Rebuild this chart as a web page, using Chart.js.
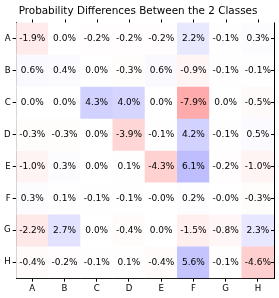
<!DOCTYPE html>
<html>
<head>
<meta charset="utf-8">
<script src="https://cdn.jsdelivr.net/npm/chart.js@4"></script>
<style>
  html, body { margin: 0; padding: 0; background: #fff; }
  #wrap { width: 279px; height: 298px; }
</style>
</head>
<body>
<div id="wrap"><canvas id="heat"></canvas></div>
<script>
// class labels (rows and columns)
const labels = ["A", "B", "C", "D", "E", "F", "G", "H"];

// probability differences in %, one array per row
const rowA = [-1.9, 0.0, -0.2, -0.2, -0.2, 2.2, -0.1, 0.3];
const rowB = [0.6, 0.4, 0.0, -0.3, 0.6, -0.9, -0.1, -0.1];
const rowC = [0.0, 0.0, 4.3, 4.0, 0.0, -7.9, 0.0, -0.5];
const rowD = [-0.3, -0.3, 0.0, -3.9, -0.1, 4.2, -0.1, 0.5];
const rowE = [-1.0, 0.3, 0.0, 0.1, -4.3, 6.1, -0.2, -1.0];
const rowF = [0.3, 0.1, -0.1, -0.1, -0.0, 0.2, -0.0, -0.3];
const rowG = [-2.2, 2.7, 0.0, -0.4, 0.0, -1.5, -0.8, 2.3];
const rowH = [-0.4, -0.2, -0.1, 0.1, -0.4, 5.6, -0.1, -4.6];
const rows = [rowA, rowB, rowC, rowD, rowE, rowF, rowG, rowH];

const vmax = 24; // colour scale limit

function cellColor(v) {
  const t = Math.min(1, Math.abs(v) / vmax);
  const c = Math.round(255 * (1 - t));
  return v > 0 ? `rgb(${c},${c},255)` : `rgb(255,${c},${c})`;
}

function fmt(v) {
  const neg = v < 0 || Object.is(v, -0);
  return (neg ? "-" : "") + Math.abs(v).toFixed(1) + "%";
}

// one floating-bar dataset per row
const datasets = rows.map((vals, r) => ({
  label: labels[r],
  data: vals.map((v, c) => ({ x: labels[c], y: [r, r + 1], v: v })),
  backgroundColor: vals.map(cellColor),
  borderWidth: 0,
  barPercentage: 1,
  categoryPercentage: 1,
  grouped: false,
}));

// writes the value in each cell and the right/top frame bits
const cellText = {
  id: "cellText",
  afterDatasetsDraw(chart) {
    const ctx = chart.ctx;
    ctx.save();
    ctx.font = "9px 'DejaVu Sans'";
    ctx.fillStyle = "#000";
    ctx.textAlign = "center";
    ctx.textBaseline = "middle";
    chart.data.datasets.forEach((ds, i) => {
      chart.getDatasetMeta(i).data.forEach((bar, j) => {
        const p = bar.getProps(["x", "y", "base"], true);
        ctx.fillText(fmt(ds.data[j].v), p.x, (p.y + p.base) / 2);
      });
    });
    const a = chart.chartArea;
    const xs = chart.scales.x, ys = chart.scales.y;
    ctx.strokeStyle = "#000";
    ctx.lineWidth = 1;
    ctx.beginPath();
    ctx.moveTo(Math.round(a.right) + 0.5, a.top);
    ctx.lineTo(Math.round(a.right) + 0.5, a.bottom);
    labels.forEach((l, k) => {
      const y = Math.round(ys.getPixelForValue(k + 0.5)) + 0.5;
      ctx.moveTo(a.right - 3, y);
      ctx.lineTo(a.right, y);
      const x = Math.round(xs.getPixelForValue(k)) + 0.5;
      ctx.moveTo(x, a.top - 3);
      ctx.lineTo(x, a.top);
    });
    ctx.stroke();
    ctx.restore();
  }
};

new Chart(document.getElementById("heat"), {
  type: "bar",
  data: { labels: labels, datasets: datasets },
  options: {
    responsive: true,
    maintainAspectRatio: false,
    animation: false,
    layout: { padding: { left: 2, right: 5, top: 0, bottom: 2 } },
    plugins: {
      legend: { display: false },
      tooltip: { enabled: false },
      title: {
        display: true,
        text: "Probability Differences Between the 2 Classes",
        color: "#000",
        font: { family: "'DejaVu Sans'", size: 10.4, weight: "normal" },
        padding: { top: 5, bottom: 5 },
      },
    },
    scales: {
      x: {
        type: "category",
        offset: true,
        grid: { display: true, drawOnChartArea: false, offset: false, tickLength: 3.5, color: "#000" },
        border: { display: true, color: "#000", width: 1 },
        ticks: { color: "#000", font: { family: "'DejaVu Sans'", size: 8.6 }, padding: 2, maxRotation: 0 },
      },
      y: {
        type: "linear",
        min: 0,
        max: 8,
        reverse: true,
        afterBuildTicks(scale) {
          scale.ticks = labels.map((l, k) => ({ value: k + 0.5 }));
        },
        grid: { display: true, drawOnChartArea: false, tickLength: 3.5, color: "#000" },
        border: { display: true, color: "#000", width: 1 },
        ticks: {
          color: "#000",
          font: { family: "'DejaVu Sans'", size: 8.6 },
          padding: 2,
          callback: (v, i) => labels[i],
        },
      },
    },
  },
  plugins: [cellText],
});
</script>
</body>
</html>
